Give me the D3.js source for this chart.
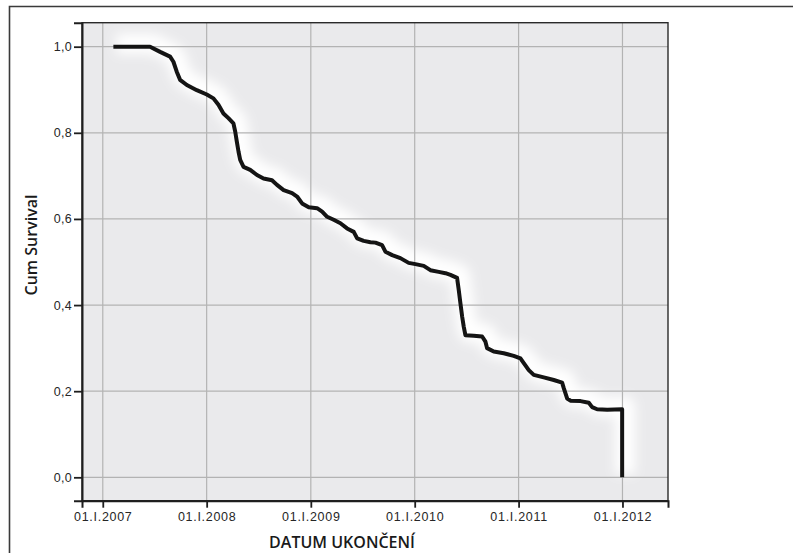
<!DOCTYPE html>
<html>
<head>
<meta charset="utf-8">
<script src="https://cdn.jsdelivr.net/npm/d3@7"></script>
<style>
  html, body { margin: 0; padding: 0; background: #ffffff; }
  svg { display: block; }
</style>
</head>
<body>
<svg id="chart" width="793" height="553"></svg>
<script>
// ---- data ----
// time in decimal years, cumulative survival
const survYears = [
  2007.102, 2007.455, 2007.552, 2007.648, 2007.680, 2007.712, 2007.744, 2007.809,
  2007.905, 2008.001, 2008.065, 2008.113, 2008.161, 2008.209, 2008.257, 2008.274,
  2008.290, 2008.306, 2008.322, 2008.354, 2008.418, 2008.483, 2008.546, 2008.627,
  2008.675, 2008.739, 2008.820, 2008.868, 2008.916, 2008.980, 2009.060, 2009.109,
  2009.157, 2009.220, 2009.285, 2009.349, 2009.413, 2009.446, 2009.509, 2009.574,
  2009.622, 2009.686, 2009.718, 2009.783, 2009.862, 2009.942, 2010.007, 2010.087,
  2010.151, 2010.231, 2010.296, 2010.344, 2010.408, 2010.424, 2010.440, 2010.457,
  2010.472, 2010.488, 2010.568, 2010.649, 2010.681, 2010.697, 2010.761, 2010.857,
  2010.953, 2011.018, 2011.050, 2011.098, 2011.146, 2011.242, 2011.339, 2011.419,
  2011.435, 2011.468, 2011.499, 2011.596, 2011.676, 2011.708, 2011.756, 2011.853,
  2011.997, 2011.997
];
const survValues = [
  1.000, 1.000, 0.988, 0.977, 0.965, 0.942, 0.923, 0.911,
  0.899, 0.889, 0.880, 0.865, 0.845, 0.834, 0.822, 0.803,
  0.779, 0.756, 0.737, 0.721, 0.714, 0.702, 0.694, 0.690,
  0.679, 0.667, 0.660, 0.652, 0.636, 0.627, 0.625, 0.617,
  0.605, 0.598, 0.590, 0.578, 0.570, 0.555, 0.549, 0.546,
  0.545, 0.539, 0.524, 0.516, 0.509, 0.498, 0.495, 0.491,
  0.481, 0.477, 0.474, 0.470, 0.463, 0.435, 0.404, 0.373,
  0.350, 0.330, 0.329, 0.327, 0.315, 0.300, 0.292, 0.288,
  0.282, 0.276, 0.265, 0.249, 0.238, 0.232, 0.226, 0.220,
  0.207, 0.183, 0.178, 0.177, 0.173, 0.163, 0.158, 0.157,
  0.158, 0.000
];
const xTickYears = [2007, 2008, 2009, 2010, 2011, 2012];
const xTickLabels = ["01.I.2007", "01.I.2008", "01.I.2009", "01.I.2010", "01.I.2011", "01.I.2012"];
const yTickValues = [0, 0.2, 0.4, 0.6, 0.8, 1.0];
const yTickLabels = ["0,0", "0,2", "0,4", "0,6", "0,8", "1,0"];
const xTitle = "DATUM UKONČENÍ";
const yTitle = "Cum Survival";

// ---- helpers ----
function yearToDate(y) {
  const yr = Math.floor(y);
  const start = Date.UTC(yr, 0, 1), end = Date.UTC(yr + 1, 0, 1);
  return new Date(start + (y - yr) * (end - start));
}

// ---- layout ----
const svg = d3.select("#chart");
const plot = { left: 82, top: 22.7, right: 668, bottom: 500.7 };

const x = d3.scaleUtc()
  .domain([new Date(Date.UTC(2006, 9, 20)), new Date(Date.UTC(2012, 5, 9))])
  .range([plot.left, plot.right]);
const y = d3.scaleLinear()
  .domain([-0.0543, 1.0557])
  .range([plot.bottom, plot.top]);

const data = survYears.map((t, i) => ({ date: yearToDate(t), v: survValues[i] }));
const xTickDates = xTickYears.map(yr => new Date(Date.UTC(yr, 0, 1)));

// outer frame (partially visible)
svg.append("path")
  .attr("d", "M9.5,553 L9.5,6.5 L793,6.5")
  .attr("fill", "none").attr("stroke", "#3a3a3a").attr("stroke-width", 1.6);

const defs = svg.append("defs");
defs.append("clipPath").attr("id", "plotclip")
  .append("rect").attr("x", plot.left).attr("y", plot.top)
  .attr("width", plot.right - plot.left).attr("height", plot.bottom - plot.top);
defs.append("filter").attr("id", "glow")
  .attr("x", "-20%").attr("y", "-20%").attr("width", "140%").attr("height", "140%")
  .append("feGaussianBlur").attr("stdDeviation", 6);

// plot background
svg.append("rect")
  .attr("x", plot.left).attr("y", plot.top)
  .attr("width", plot.right - plot.left).attr("height", plot.bottom - plot.top)
  .attr("fill", "#eaeaec");

const g = svg.append("g").attr("clip-path", "url(#plotclip)");

// glow under curve
const line = d3.line().x(d => x(d.date)).y(d => y(d.v)).curve(d3.curveLinear);
g.append("path")
  .datum(data)
  .attr("d", line)
  .attr("transform", "translate(3,-3)")
  .attr("fill", "none")
  .attr("stroke", "#ffffff")
  .attr("stroke-width", 20)
  .attr("stroke-linejoin", "round")
  .attr("filter", "url(#glow)");

// gridlines
g.selectAll("line.vgrid").data(xTickDates).enter().append("line")
  .attr("class", "vgrid")
  .attr("x1", d => x(d)).attr("x2", d => x(d))
  .attr("y1", plot.top).attr("y2", plot.bottom)
  .attr("stroke", "#b3b3b3").attr("stroke-width", 1.2);
g.selectAll("line.hgrid").data(yTickValues).enter().append("line")
  .attr("class", "hgrid")
  .attr("x1", plot.left).attr("x2", plot.right)
  .attr("y1", d => y(d)).attr("y2", d => y(d))
  .attr("stroke", "#b3b3b3").attr("stroke-width", 1.2);

// survival curve
g.append("path")
  .datum(data)
  .attr("d", line)
  .attr("fill", "none")
  .attr("stroke", "#141414")
  .attr("stroke-width", 4)
  .attr("stroke-linejoin", "round")
  .attr("stroke-linecap", "butt");

// plot border
svg.append("rect")
  .attr("x", plot.left).attr("y", plot.top)
  .attr("width", plot.right - plot.left).attr("height", plot.bottom - plot.top)
  .attr("fill", "none").attr("stroke", "#2a2a2a").attr("stroke-width", 1.4);

// axes
const xAxis = d3.axisBottom(x)
  .tickValues(xTickDates)
  .tickSize(7).tickPadding(4)
  .tickFormat((d, i) => xTickLabels[i]);
const yAxis = d3.axisLeft(y)
  .tickValues(yTickValues)
  .tickSize(8).tickPadding(2)
  .tickFormat((d, i) => yTickLabels[i]);

const gx = svg.append("g").attr("transform", `translate(0,${plot.bottom})`).call(xAxis);
const gy = svg.append("g").attr("transform", `translate(${plot.left},0)`).call(yAxis);

[gx, gy].forEach(ax => {
  ax.select(".domain").attr("stroke", "#1e1e1e").attr("stroke-width", 2);
  ax.selectAll(".tick line").attr("stroke", "#1e1e1e").attr("stroke-width", 1.8);
  ax.selectAll(".tick text")
    .attr("fill", "#262626")
    .style("font-family", "'Liberation Sans', Arial, sans-serif")
    .style("font-size", "12.5px")
    .style("letter-spacing", "0.7px");
});
gy.selectAll(".tick text").style("letter-spacing", "0.3px");

// axis titles
svg.append("text")
  .attr("x", 342).attr("y", 548)
  .attr("text-anchor", "middle")
  .style("font-family", "'Open Sans', sans-serif")
  .style("font-weight", 600)
  .style("font-size", "16px")
  .attr("fill", "#1a1a1a")
  .text(xTitle);

svg.append("text")
  .attr("transform", "translate(37,245) rotate(-90)")
  .attr("text-anchor", "middle")
  .style("font-family", "'Open Sans', sans-serif")
  .style("font-weight", 600)
  .style("font-size", "16px")
  .attr("fill", "#1a1a1a")
  .text(yTitle);
</script>
</body>
</html>
